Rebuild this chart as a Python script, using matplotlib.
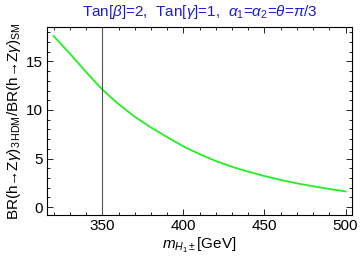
import matplotlib
matplotlib.use("Agg")
from matplotlib import pyplot as plt
from matplotlib.ticker import MultipleLocator

plt.rcParams['font.family'] = ['Liberation Sans', 'DejaVu Sans']
plt.rcParams['mathtext.fontset'] = 'custom'
plt.rcParams['mathtext.rm'] = 'Liberation Sans'
plt.rcParams['mathtext.it'] = 'Liberation Sans:italic'
plt.rcParams['mathtext.bf'] = 'Liberation Sans:bold'

# m_H1± [GeV] and ratio
mass = [320, 330, 340, 350, 360, 370, 380, 390, 400, 410,
        420, 430, 440, 450, 460, 470, 480, 490, 500]
ratio = [17.6, 15.8, 13.9, 12.1, 10.6, 9.3, 8.2, 7.2, 6.25, 5.45,
         4.75, 4.15, 3.65, 3.2, 2.8, 2.45, 2.15, 1.87, 1.62]
mark_mass = 350

TITLE = r"Tan[$\beta$]=2,  Tan[$\gamma$]=1,  $\alpha_1$=$\alpha_2$=$\theta$=$\pi$/3"


def main():
    fig = plt.figure(figsize=(3.6, 2.68), dpi=100)
    ax = fig.add_axes([0.131, 0.198, 0.847, 0.70])

    ax.plot(mass, ratio, color='#22ee22', lw=1.3)
    ax.axvline(mark_mass, color='#555555', lw=0.8)

    ax.set_xlim(316, 504)
    ax.set_ylim(-0.8, 18.5)
    ax.xaxis.set_major_locator(MultipleLocator(50))
    ax.xaxis.set_minor_locator(MultipleLocator(10))
    ax.yaxis.set_major_locator(MultipleLocator(5))
    ax.yaxis.set_minor_locator(MultipleLocator(1))
    ax.tick_params(which='both', direction='in', top=True, right=True,
                   labelsize=11, width=0.6, pad=3)
    ax.tick_params(which='major', length=4)
    ax.tick_params(which='minor', length=2)
    for s in ax.spines.values():
        s.set_linewidth(0.8)

    ax.set_xlabel(r"$m_{H_1\pm}$[GeV]", fontsize=11, labelpad=2)
    ax.set_ylabel("BR(h\u2192Z$\\gamma$)$_{3\\,\\mathrm{HDM}}$/BR(h\u2192Z$\\gamma$)$_{\\mathrm{SM}}$",
                  fontsize=11, labelpad=2)
    fig.text(0.555, 0.955, TITLE, color='#1c1ccc', fontsize=11,
             ha='center', va='center')

    fig.savefig("out.png", dpi=100)


if __name__ == '__main__':
    main()
